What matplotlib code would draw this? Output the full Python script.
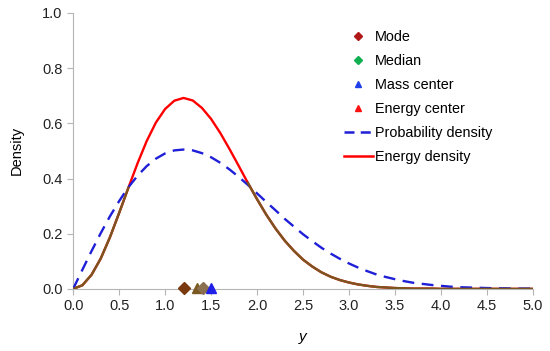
import numpy as np
import matplotlib
matplotlib.use("Agg")
import matplotlib.pyplot as plt
from matplotlib.lines import Line2D

plt.rcParams['font.family'] = ['Liberation Sans', 'DejaVu Sans']

# valores (paso 0.1)
y = np.round(np.arange(0, 5.01, 0.1), 1)
prob = [0.000, 0.069, 0.137, 0.202, 0.263, 0.318, 0.368, 0.410, 0.445, 0.472,
        0.491, 0.502, 0.505, 0.502, 0.492, 0.477, 0.457, 0.433, 0.406, 0.377,
        0.346, 0.315, 0.285, 0.254, 0.226, 0.198, 0.173, 0.149, 0.128, 0.109,
        0.092, 0.077, 0.064, 0.052, 0.043, 0.035, 0.028, 0.022, 0.018, 0.014,
        0.011, 0.008, 0.006, 0.005, 0.004, 0.003, 0.002, 0.002, 0.001, 0.001,
        0.001]
energia = [0.000, 0.013, 0.051, 0.110, 0.187, 0.275, 0.366, 0.455, 0.536, 0.603,
           0.652, 0.682, 0.692, 0.683, 0.656, 0.616, 0.565, 0.507, 0.446, 0.384,
           0.325, 0.269, 0.219, 0.175, 0.138, 0.106, 0.081, 0.060, 0.044, 0.032,
           0.023, 0.016, 0.011, 0.007, 0.005, 0.003, 0.002, 0.001, 0.001, 0.001,
           0.000, 0.000, 0.000, 0.000, 0.000, 0.000, 0.000, 0.000, 0.000, 0.000,
           0.000]

moda = 1.20
mediana = 1.41
centro_masa = 1.50
centro_energia = 1.35

prob = np.array(prob)
energia = np.array(energia)

fig = plt.figure(figsize=(5.5, 3.51), dpi=100)
ax = fig.add_axes([0.133, 0.177, 0.836, 0.786])

ax.plot(y, prob, color="#1f1fd8", lw=1.7, dashes=(5, 3.2), zorder=3)
ax.plot(y, energia, color="#ff0000", lw=1.7, zorder=2)
# tramo marron donde la curva de energia queda bajo la de probabilidad
marron = np.where(energia <= prob + 0.01, energia, np.nan)
ax.plot(y, marron, color="#7a5520", lw=1.7, zorder=4)

ax.plot([moda], [0.003], "D", color="#7a3a10", ms=6, zorder=5, clip_on=False)
ax.plot([centro_energia], [0.003], "^", color="#7a5a22", ms=7, zorder=5, clip_on=False)
ax.plot([mediana], [0.003], "D", color="#8a7050", ms=6, zorder=5, clip_on=False)
ax.plot([centro_masa], [0.003], "^", color="#1f1fe8", ms=7, zorder=6, clip_on=False)

ax.set_xlim(0, 5)
ax.set_ylim(0, 1)
ax.set_xticks(np.arange(0, 5.01, 0.5))
ax.set_yticks(np.arange(0, 1.01, 0.2))
ax.xaxis.set_major_formatter(matplotlib.ticker.FormatStrFormatter("%.1f"))
ax.yaxis.set_major_formatter(matplotlib.ticker.FormatStrFormatter("%.1f"))
for s in ["top", "right"]:
    ax.spines[s].set_visible(False)
for s in ["left", "bottom"]:
    ax.spines[s].set_color("#b5b5b5")
ax.tick_params(colors="#b5b5b5", labelcolor="#222222", labelsize=10.5, length=4)
ax.set_xlabel("y", style="italic", fontsize=11, labelpad=12)
ax.set_ylabel("Density", fontsize=10.5, labelpad=13)

handles = [
    Line2D([], [], ls="none", marker="D", color="#b01818", ms=4),
    Line2D([], [], ls="none", marker="D", color="#10b050", ms=4),
    Line2D([], [], ls="none", marker="^", color="#1f3fe8", ms=5),
    Line2D([], [], ls="none", marker="^", color="#ff1010", ms=5),
    Line2D([], [], color="#1f1fd8", lw=1.8, dashes=(4, 2.5)),
    Line2D([], [], color="#ff0000", lw=1.8),
]
labels = ["Mode", "Median", "Mass center", "Energy center",
          "Probability density", "Energy density"]
fig.legend(handles, labels, loc="upper left", bbox_to_anchor=(0.615, 0.93),
           frameon=False, fontsize=10.4, labelspacing=0.69, handlelength=2.0,
           handletextpad=0.15, borderaxespad=0)

fig.savefig("out.png", dpi=100)
